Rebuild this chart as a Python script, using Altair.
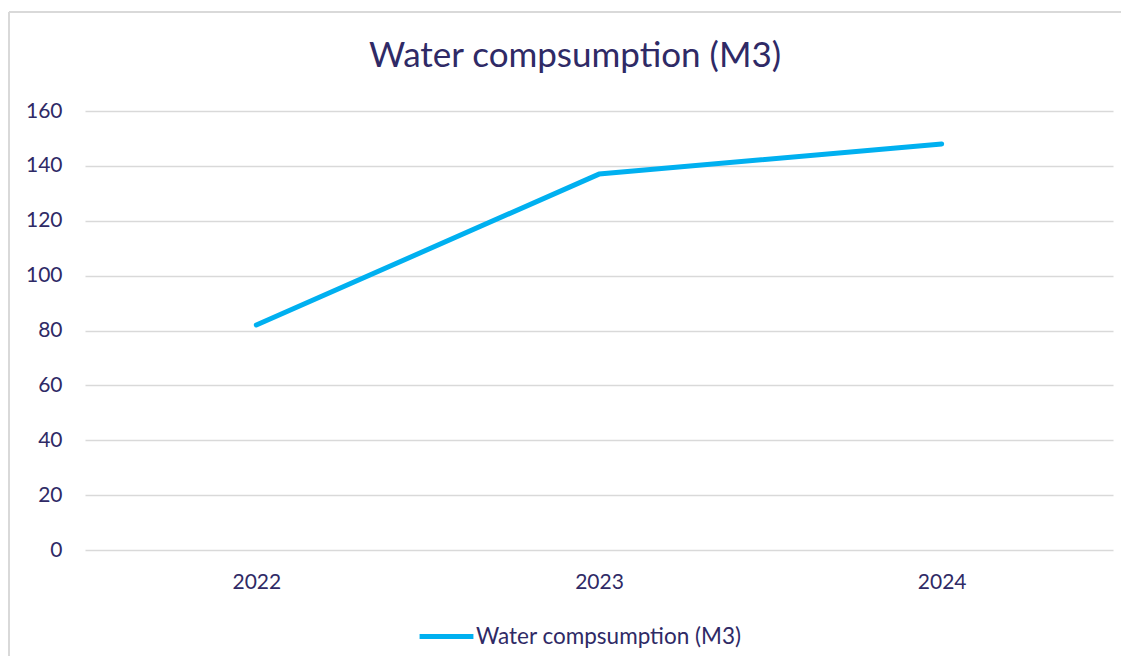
import altair as alt
import pandas as pd

years = ["2022", "2023", "2024"]
values = [82, 137, 148]
series = "Water compsumption (M3)"

df = pd.DataFrame({"year": years, "value": values, "series": [series] * 3})
title_df = pd.DataFrame({"t": [series]})

TEXT = "#2f2a66"
GRID = "#d9d9d9"
LINE = "#00b0f0"
FONT = "Lato"
FS = 21

W, H = 1028, 439
PL, PT = 77, 103

line = alt.Chart(df).mark_line(strokeWidth=5, strokeCap="round", strokeJoin="round").encode(
    x=alt.X("year:N", sort=years, title=None,
            scale=alt.Scale(type="point", padding=0.5),
            axis=alt.Axis(domain=False, ticks=False, grid=False, labelAngle=0,
                          labelFontSize=FS, labelColor=TEXT, labelFont=FONT,
                          labelPadding=21)),
    y=alt.Y("value:Q", title=None,
            scale=alt.Scale(domain=[0, 160], nice=False),
            axis=alt.Axis(values=[0, 20, 40, 60, 80, 100, 120, 140, 160],
                          domain=False, ticks=False, gridColor=GRID, gridWidth=1.5,
                          labelFontSize=FS, labelColor=TEXT, labelFont=FONT,
                          labelPadding=23)),
    color=alt.Color("series:N", scale=alt.Scale(range=[LINE]),
                    legend=alt.Legend(title=None, orient="none", legendX=332, legendY=496,
                                      symbolType="stroke", symbolSize=2900,
                                      symbolStrokeWidth=5, labelFontSize=22.5,
                                      labelLimit=600,
                                      labelColor=TEXT, labelFont=FONT, labelOffset=0)),
)

title = alt.Chart(title_df).mark_text(fontSize=35, font=FONT, color=TEXT,
                                      baseline="middle", align="center").encode(
    text="t:N", x=alt.value(490), y=alt.value(-55)
)

border_left = alt.Chart(df).mark_rule(color=GRID, strokeWidth=2).encode(
    x=alt.value(-76), y=alt.value(-99), y2=alt.value(H + 110)
)
border_top = alt.Chart(df).mark_rule(color=GRID, strokeWidth=2).encode(
    x=alt.value(-76), x2=alt.value(W + 30), y=alt.value(-99)
)

chart = alt.layer(border_left, border_top, title, line).properties(
    width=W, height=H,
    background="white",
    autosize=alt.AutoSizeParams(type="none"),
    padding={"left": PL, "top": PT, "right": 8, "bottom": 106},
).configure_view(strokeWidth=0, stroke="transparent")

chart.save("out.html", embed_options={"renderer": "svg", "actions": False})
